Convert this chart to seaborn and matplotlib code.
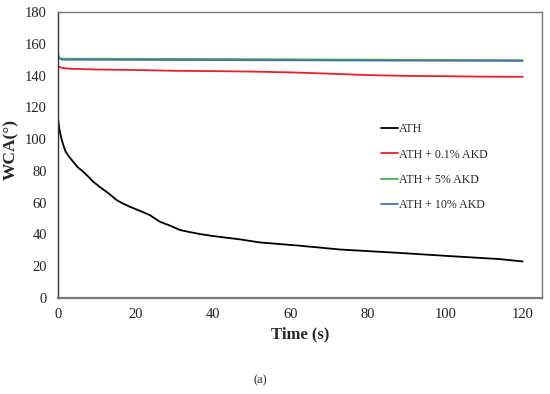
import numpy as np
import pandas as pd
import matplotlib
matplotlib.use("Agg")
import matplotlib.pyplot as plt
import seaborn as sns

# Data
ath_t = [0, 0.3, 0.8, 1.4, 2, 3, 3.9, 5, 6.5, 8, 9.1, 11, 12.5, 14, 15.1, 16.5, 18.5, 21, 23.7, 26.3, 29, 31.5, 34, 36.6, 40, 47,
         52, 62, 73, 88, 101, 114, 120]
ath_v = [113, 107, 101, 96, 92, 88.5, 85.8, 82.5, 79.5, 76, 73.2, 69.5, 66.9, 64, 61.7, 59.8, 57.5, 55, 52.2, 48, 45.5, 42.8, 41.5, 40.3, 39, 36.9,
         35, 33, 30.5, 28.4, 26.4, 24.5, 23]

akd01_t = [0, 0.3, 1, 3, 10, 20, 30, 40, 50, 60, 70, 80, 90, 100, 110, 120]
akd01_v = [146, 145.5, 144.8, 144.3, 143.8, 143.5, 143, 142.8, 142.5, 142, 141.2, 140.3, 139.8, 139.6, 139.3, 139.2]

akd5_t = [0, 0.3, 1, 30, 60, 90, 120]
akd5_v = [152, 151, 150.6, 150.5, 150.2, 149.9, 149.7]

akd10_t = [0, 0.3, 1, 30, 60, 90, 120]
akd10_v = [154, 151, 150, 149.8, 149.6, 149.4, 149.2]

labels = ["ATH", "ATH + 0.1% AKD", "ATH + 5% AKD", "ATH + 10% AKD"]
colors = ["#000000", "#E8202A", "#4CAF50", "#4A6FA5"]

frames = []
for lab, t, v in zip(labels, [ath_t, akd01_t, akd5_t, akd10_t], [ath_v, akd01_v, akd5_v, akd10_v]):
    frames.append(pd.DataFrame({"Time": t, "WCA": v, "Sample": lab}))
df = pd.concat(frames, ignore_index=True)

sns.set_style("white")
plt.rcParams["font.family"] = ["Liberation Serif", "DejaVu Serif"]

fig = plt.figure(figsize=(5.5, 3.94), dpi=100)
ax = fig.add_axes([58/550, 1-298/394, (542-58)/550, (298-12)/394])

sns.lineplot(data=df, x="Time", y="WCA", hue="Sample", palette=dict(zip(labels, colors)),
             hue_order=labels, ax=ax, linewidth=1.3, sort=False, estimator=None)

ax.set_xlim(0, 125)
ax.set_ylim(0, 180)
ax.set_xticks([0, 20, 40, 60, 80, 100, 120])
ax.set_yticks(range(0, 181, 20))
ax.tick_params(axis="both", length=0, labelsize=10.5, colors="#222222")
ax.tick_params(axis="y", pad=8)
ax.tick_params(axis="x", pad=7)
for s in ax.spines.values():
    s.set_color("#777777")
    s.set_linewidth(1.0)
ax.spines["bottom"].set_linewidth(1.6)
ax.spines["left"].set_color("#333333")

ax.set_xlabel("Time (s)", fontsize=12, fontweight="bold", labelpad=4)
ax.set_ylabel("WCA(°)", fontsize=12.5, fontweight="bold")
ax.yaxis.set_label_coords(-0.080, 0.52)

leg = ax.legend(loc="upper left", bbox_to_anchor=(0.645, 0.648), frameon=False,
                fontsize=8.6, handlelength=1.4, handletextpad=0.1, labelspacing=1.1)

fig.text(0.473, 1-380/394, "(a)", fontsize=9, ha="center", va="center")

fig.savefig("out.png", dpi=100, facecolor="white")
